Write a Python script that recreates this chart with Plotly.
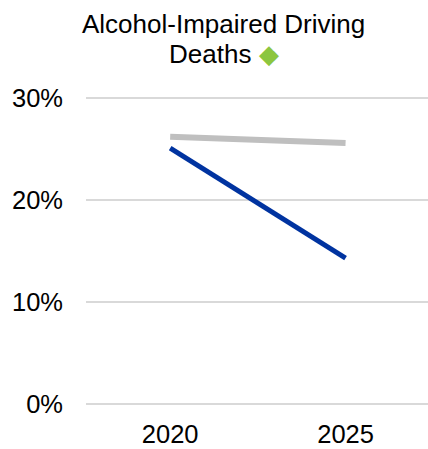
import plotly.graph_objects as go

years = ["2020", "2025"]
benchmark = [26.2, 25.6]
actual = [25.1, 14.3]
y_ticks = [0, 10, 20, 30]
title_line1 = "Alcohol-Impaired Driving"
title_line2 = "Deaths <span style='color:#8CC63F'>◆</span>"

FONT = "Arial, Liberation Sans, sans-serif"

fig = go.Figure()
fig.add_trace(go.Scatter(x=years, y=benchmark, mode="lines",
                         line=dict(color="#BFBFBF", width=6), hoverinfo="skip"))
fig.add_trace(go.Scatter(x=years, y=actual, mode="lines",
                         line=dict(color="#0033A0", width=5), hoverinfo="skip"))

fig.update_layout(
    width=428, height=449,
    margin=dict(l=86, r=0, t=93, b=40),
    paper_bgcolor="white", plot_bgcolor="white",
    showlegend=False,
    font=dict(family=FONT, size=25.5, color="#000000"),
    xaxis=dict(type="category", range=[-0.48, 1.47], showgrid=False,
               showline=False, zeroline=False, ticks="", tickfont=dict(size=25.5),
               ticklabelstandoff=7),
    yaxis=dict(range=[-0.5, 30.5], tickvals=y_ticks, ticktext=[f"{v}%" for v in y_ticks],
               showgrid=True, gridcolor="#D9D9D9", gridwidth=1.5,
               zeroline=False, showline=False, ticks="", tickfont=dict(size=25.5),
               ticklabelstandoff=22),
    annotations=[
        dict(text=title_line1, showarrow=False, xref="paper", yref="paper",
             x=0.4035, y=1.2184, xanchor="center", yanchor="middle",
             font=dict(family=FONT, size=26, color="#000000")),
        dict(text=title_line2, showarrow=False, xref="paper", yref="paper",
             x=0.4035, y=1.1234, xanchor="center", yanchor="middle",
             font=dict(family=FONT, size=26, color="#000000")),
    ],
)

fig.write_html("out.html", config={"displayModeBar": False},
               post_script="document.body.style.margin='0';")
